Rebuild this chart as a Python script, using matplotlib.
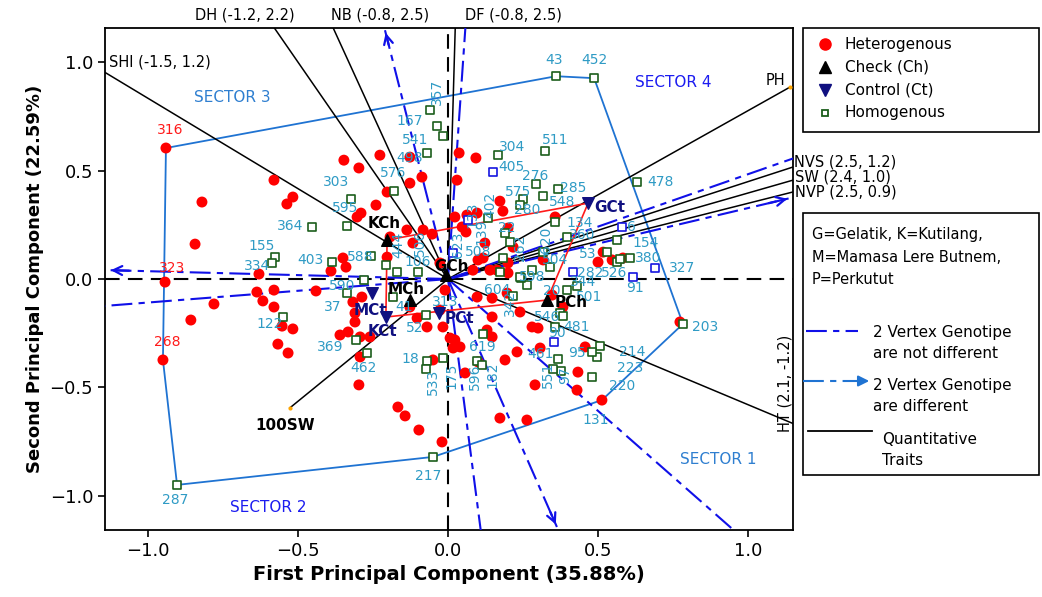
import matplotlib
matplotlib.use("Agg")
import matplotlib.pyplot as plt
from matplotlib.patches import Rectangle

# --- genotype scores (PC1, PC2) ---
het_x = [-0.94, -0.943, -0.95, -0.82, -0.843, -0.78, -0.857, -0.58, -0.517, -0.537,
         -0.63, -0.637, -0.58, -0.617, -0.58, -0.553, -0.517, -0.567, -0.533, -0.44,
         -0.39, -0.34, -0.35, -0.347, -0.297, -0.227, -0.127, -0.087, -0.127, -0.203,
         -0.24, -0.29, -0.303, -0.193, -0.137, -0.083, -0.053, -0.203, -0.027, 0.023,
         0.03, 0.037, 0.093, -0.287, -0.317, -0.31, -0.31, -0.333, -0.36, -0.293,
         -0.26, -0.293, -0.297, -0.167, -0.143, -0.097, -0.02, -0.103, -0.127, -0.017,
         0.007, 0.017, -0.01, -0.027, -0.117, -0.05, -0.07,
         0.173, 0.183, 0.063, 0.097, 0.047, 0.06, 0.2, 0.217, 0.123, 0.117, 0.14, 0.2,
         0.2, 0.1, 0.083, 0.163, 0.357, 0.317, 0.517, 0.5, 0.547, 0.583, 0.773, 0.197,
         0.147, 0.097, 0.24, 0.28, 0.3, 0.147, 0.347, 0.383, 0.13, 0.147, 0.023, 0.04,
         0.057, 0.23, 0.19, 0.307, 0.457, 0.433, 0.43, 0.29, 0.513, 0.173, 0.263, 0.1]
het_y = [0.604, -0.014, -0.373, 0.355, 0.161, -0.115, -0.189, 0.456, 0.378, 0.346,
         0.023, -0.06, -0.051, -0.101, -0.129, -0.217, -0.23, -0.30, -0.341, -0.055,
         0.037, 0.055, 0.097, 0.548, 0.512, 0.571, 0.562, 0.47, 0.442, 0.401,
         0.341, 0.304, 0.286, 0.194, 0.226, 0.226, 0.207, 0.101, 0.074, 0.286,
         0.456, 0.581, 0.558, -0.083, -0.106, -0.157, -0.198, -0.244, -0.258, -0.267,
         -0.267, -0.359, -0.488, -0.59, -0.631, -0.696, -0.751, -0.18, -0.129, -0.221,
         -0.272, -0.318, -0.051, -0.143, 0.166, -0.373, -0.221,
         0.359, 0.313, 0.295, 0.304, 0.24, 0.217, 0.235, 0.147, 0.166, 0.097, 0.041, 0.074,
         0.028, 0.088, 0.041, 0.041, 0.286, 0.088, 0.124, 0.078, 0.088, 0.097, -0.198, -0.065,
         -0.088, -0.083, -0.152, -0.221, -0.226, -0.175, -0.074, -0.129, -0.235, -0.267, -0.281, -0.313,
         -0.433, -0.336, -0.373, -0.318, -0.313, -0.429, -0.512, -0.488, -0.558, -0.641, -0.65, -0.382]

hom_x = [0.36, 0.487, 0.63, -0.06, -0.037, -0.017, -0.07, -0.18, -0.323, -0.453,
         -0.337, -0.387, -0.257, -0.207, -0.17, -0.1, -0.577, -0.587, -0.28, -0.337,
         -0.55, -0.307, -0.27, -0.183, -0.073, -0.07, -0.073, -0.017, -0.05, -0.903,
         0.783, 0.48, 0.507, 0.497, 0.48, 0.367, 0.377, 0.35, 0.373, 0.383,
         0.357, 0.43, 0.397, 0.217, 0.263, 0.243, 0.117, 0.097, 0.113, 0.167,
         0.323, 0.293, 0.367, 0.25, 0.24, 0.317, 0.357, 0.397, 0.19, 0.207,
         0.133, 0.183, 0.173, 0.24, 0.28, 0.317, 0.34, 0.53, 0.563, 0.573, 0.607, 0.563]
hom_y = [0.935, 0.926, 0.447, 0.779, 0.705, 0.659, 0.581, 0.406, 0.369, 0.24,
         0.244, 0.078, 0.106, 0.065, 0.032, 0.032, 0.101, 0.074, -0.005, -0.065,
         -0.175, -0.281, -0.341, -0.083, -0.166, -0.378, -0.415, -0.364, -0.82, -0.949,
         -0.207, -0.452, -0.309, -0.359, -0.336, -0.369, -0.424, -0.415, -0.157, -0.171,
         -0.221, -0.032, -0.051, -0.078, -0.028, 0.005, -0.253, -0.378, -0.396, 0.571,
         0.59, 0.438, 0.415, 0.369, 0.341, 0.382, 0.263, 0.194, 0.212, 0.171,
         0.281, 0.097, 0.032, 0.009, 0.041, 0.124, 0.055, 0.124, 0.078, 0.092, 0.097, 0.18]

blu_x = [0.15, 0.067, 0.017, 0.417, 0.58, 0.69, 0.617, 0.353]
blu_y = [0.493, 0.272, 0.12, 0.032, 0.24, 0.051, 0.009, -0.29]

# genotype number labels
lab_text = ["43", "452", "478", "357", "167", "541", "498", "576", "303", "595",
            "364", "155", "334", "403", "588", "590", "37", "122", "369", "462",
            "41", "52", "18", "533", "175", "217", "287", "203", "131", "220",
            "223", "214", "95", "461", "551", "97", "481", "90", "546", "501",
            "344", "20", "604", "598", "342", "619", "596", "182", "282", "526",
            "91", "327", "154", "380", "6", "134", "360", "53", "504", "548",
            "280", "575", "276", "285", "304", "405", "511", "133", "402", "139",
            "22", "623", "508", "262", "620", "106", "506", "444", "313"]
lab_x = [0.353, 0.487, 0.707, -0.037, -0.127, -0.11, -0.127, -0.183, -0.373, -0.343,
         -0.527, -0.62, -0.637, -0.46, -0.293, -0.353, -0.383, -0.593, -0.393, -0.28,
         -0.147, -0.11, -0.127, -0.05, 0.01, -0.067, -0.91, 0.857, 0.493, 0.58,
         0.607, 0.613, 0.43, 0.307, 0.333, 0.39, 0.427, 0.363, 0.33, 0.47,
         0.45, 0.345, 0.163, 0.28, 0.207, 0.113, 0.09, 0.147, 0.473, 0.553,
         0.623, 0.78, 0.657, 0.667, 0.613, 0.44, 0.447, 0.467, 0.357, 0.38,
         0.263, 0.233, 0.29, 0.417, 0.213, 0.213, 0.357, 0.08, 0.14, 0.113,
         0.197, 0.033, 0.1, 0.24, 0.327, -0.1, -0.093, -0.167, -0.01]
lab_y = [1.009, 1.009, 0.447, 0.862, 0.728, 0.641, 0.558, 0.488, 0.447, 0.327,
         0.244, 0.152, 0.06, 0.088, 0.101, -0.032, -0.129, -0.207, -0.313, -0.41,
         -0.129, -0.226, -0.369, -0.475, -0.447, -0.908, -1.018, -0.221, -0.65, -0.493,
         -0.41, -0.336, -0.341, -0.346, -0.442, -0.442, -0.221, -0.249, -0.175, -0.083,
         -0.012, -0.055, -0.051, 0.009, -0.111, -0.313, -0.452, -0.442, 0.028, 0.028,
         -0.041, 0.051, 0.166, 0.097, 0.24, 0.258, 0.203, 0.115, 0.088, 0.355,
         0.318, 0.401, 0.475, 0.419, 0.608, 0.516, 0.641, 0.295, 0.341, 0.217,
         0.235, 0.157, 0.124, 0.143, 0.18, 0.078, 0.166, 0.157, -0.106]
lab_rot = [0, 0, 0, 90, 0, 0, 0, 0, 0, 0,
           0, 0, 0, 0, 0, 0, 0, 0, 0, 0,
           0, 0, 0, 90, 90, 0, 0, 0, 0, 0,
           0, 0, 0, 0, 90, 90, 0, 0, 0, 0,
           0, 0, 0, 0, 90, 0, 90, 90, 0, 0,
           0, 0, 0, 0, 0, 0, 0, 0, 0, 0,
           0, 0, 0, 0, 0, 0, 0, 90, 90, 90,
           0, 90, 0, 90, 90, 0, 90, 90, 0]

red_lab = ["316", "323", "268"]
red_lab_x = [-0.927, -0.92, -0.937]
red_lab_y = [0.687, 0.051, -0.29]

# checks and controls
check_names = ["KCh", "MCh", "PCh", "GCh"]
check_x = [-0.203, -0.127, 0.33, -0.005]
check_y = [0.18, -0.097, -0.097, 0.02]
check_lx = [-0.213, -0.14, 0.41, 0.01]
check_ly = [0.258, -0.05, -0.106, 0.06]
ctrl_names = ["GCt", "MCt", "KCt", "PCt"]
ctrl_x = [0.467, -0.253, -0.207, -0.03]
ctrl_y = [0.35, -0.065, -0.175, -0.157]
ctrl_lx = [0.54, -0.257, -0.22, 0.037]
ctrl_ly = [0.332, -0.147, -0.24, -0.18]

# convex hull of vertex genotypes: 316, 43, 452, 203, 131, 217, 287, 268
hull_x = [-0.94, 0.36, 0.487, 0.783, 0.513, -0.05, -0.903, -0.95, -0.94]
hull_y = [0.604, 0.935, 0.926, -0.207, -0.558, -0.82, -0.949, -0.373, 0.604]

# trait vectors
trait_names = ["SHI", "DH", "NB", "DF", "PH", "NVS", "SW", "NVP", "HT", "100SW"]
trait_x = [-1.2, -0.6, -0.4, 0.025, 1.14, 1.16, 1.16, 1.16, 1.16, -0.527]
trait_y = [1.0, 1.2, 1.21, 1.2, 0.885, 0.521, 0.46, 0.405, -0.672, -0.594]

# vertex comparison vectors (blue)
vec_x = [-1.133, -1.2, -0.21, 0.06, 1.2, 1.14, 0.113, 0.363, 0.95]
vec_y = [0.041, -0.13, 1.147, 1.2, 0.58, 0.373, -1.2, -1.143, -1.155]
vec_arrow = [True, False, True, False, False, True, False, True, False]

fig = plt.figure(figsize=(10.42, 5.97), dpi=100)
ax = fig.add_axes([0.1008, 0.1122, 0.6603, 0.8408])
ax.set_xlim(-1.143, 1.15)
ax.set_ylim(-1.157, 1.157)

teal = "#2f9bc5"
hull_col = "#1f73d2"
vblue = "#1010e8"

ax.axhline(0, color="black", lw=1.5, ls=(0, (7, 4)), zorder=1)
ax.axvline(0, color="black", lw=1.5, ls=(0, (7, 4)), zorder=1)

ax.plot(hull_x, hull_y, color=hull_col, lw=1.3, zorder=2)

for tx, ty in zip(trait_x, trait_y):
    ax.plot([0, tx], [0, ty], color="black", lw=1.1, zorder=3)
ax.plot([trait_x[4], trait_x[9]], [trait_y[4], trait_y[9]], ls="none",
        marker="o", ms=2, color="orange", zorder=4)

for vx, vy, arr in zip(vec_x, vec_y, vec_arrow):
    ax.plot([0, vx], [0, vy], color=vblue, lw=1.5, ls=(0, (10, 3, 3, 3)), zorder=3)
    if arr:
        ax.annotate("", xy=(vx, vy), xytext=(vx * 0.93, vy * 0.93),
                    arrowprops=dict(arrowstyle="->", color=vblue, lw=1.6,
                                    mutation_scale=16))

ax.plot([check_x[0], ctrl_x[0], check_x[2], ctrl_x[2], check_x[0]],
        [check_y[0], ctrl_y[0], check_y[2], ctrl_y[2], check_y[0]],
        color="#ff1a1a", lw=1.2, zorder=4)

ax.scatter(het_x, het_y, s=62, color="#ff0000", edgecolor="none", zorder=5)
ax.scatter(hom_x, hom_y, s=30, marker="s", facecolor="white",
           edgecolor="#1b5e1b", lw=1.2, zorder=6)
ax.scatter(blu_x, blu_y, s=30, marker="s", facecolor="white",
           edgecolor="#1515e0", lw=1.2, zorder=6)
ax.scatter(check_x, check_y, s=70, marker="^", color="black", zorder=7)
ax.scatter(ctrl_x, ctrl_y, s=70, marker="v", color="#101080", zorder=7)

for t, x, y, r in zip(lab_text, lab_x, lab_y, lab_rot):
    ax.text(x, y, t, color=teal, fontsize=10, rotation=r,
            ha="center", va="center", zorder=8)
for t, x, y in zip(red_lab, red_lab_x, red_lab_y):
    ax.text(x, y, t, color="#ff1a1a", fontsize=10, ha="center", va="center", zorder=8)
for t, x, y in zip(check_names, check_lx, check_ly):
    ax.text(x, y, t, color="black", fontsize=11, fontweight="bold",
            ha="center", va="center", zorder=8)
for t, x, y in zip(ctrl_names, ctrl_lx, ctrl_ly):
    ax.text(x, y, t, color="#101080", fontsize=11, fontweight="bold",
            ha="center", va="center", zorder=8)

# sector names
ax.text(-0.72, 0.839, "SECTOR 3", color="#2f7fd0", fontsize=11, ha="center", va="center")
ax.text(0.75, 0.908, "SECTOR 4", color="#1c1cf0", fontsize=11, ha="center", va="center")
ax.text(0.9, -0.834, "SECTOR 1", color="#2f7fd0", fontsize=11, ha="center", va="center")
ax.text(-0.6, -1.055, "SECTOR 2", color="#1c1cf0", fontsize=11, ha="center", va="center")

# trait labels
tk = dict(color="black", fontsize=10.5, clip_on=False, va="center")
ax.text(-0.677, 1.217, "DH (-1.2, 2.2)", ha="center", **tk)
ax.text(-0.227, 1.217, "NB (-0.8, 2.5)", ha="center", **tk)
ax.text(0.217, 1.217, "DF (-0.8, 2.5)", ha="center", **tk)
ax.text(-1.13, 1.0, "SHI (-1.5, 1.2)", ha="left", **tk)
ax.text(1.057, 0.917, "PH", ha="left", **tk)
ax.text(1.152, 0.539, "NVS (2.5, 1.2)", ha="left", **tk)
ax.text(1.158, 0.47, "SW (2.4, 1.0)", ha="left", **tk)
ax.text(1.158, 0.40, "NVP (2.5, 0.9)", ha="left", **tk)
ax.text(1.123, -0.479, "HT (2.1, -1.2)", ha="center", rotation=90, **tk)
ax.text(-0.543, -0.673, "100SW", ha="center", color="black", fontsize=11,
        fontweight="bold", va="center")

ax.set_xticks([-1.0, -0.5, 0.0, 0.5, 1.0])
ax.set_yticks([-1.0, -0.5, 0.0, 0.5, 1.0])
ax.tick_params(labelsize=13, length=5, width=1.2)
for s in ax.spines.values():
    s.set_linewidth(1.3)
ax.set_xlabel("First Principal Component (35.88%)", fontsize=14, fontweight="bold")
ax.set_ylabel("Second Principal Component (22.59%)", fontsize=13, fontweight="bold")

# legend panels in pixel coordinates
lax = fig.add_axes([0, 0, 1, 1])
lax.set_xlim(0, 1042)
lax.set_ylim(597, 0)
lax.axis("off")
lax.add_patch(Rectangle((803, 28), 236, 104, fill=False, lw=1.2, ec="black"))
lax.add_patch(Rectangle((803, 213), 236, 262, fill=False, lw=1.2, ec="black"))

leg_names = ["Heterogenous", "Check (Ch)", "Control (Ct)", "Homogenous"]
leg_marks = ["o", "^", "v", "s"]
leg_cols = ["#ff0000", "black", "#101080", "#1b5e1b"]
for i, (n, m, c) in enumerate(zip(leg_names, leg_marks, leg_cols)):
    yy = 44 + i * 23
    if m == "s":
        lax.plot(825, yy, marker=m, ms=5, mfc="white", mec=c, mew=1.3)
    else:
        lax.plot(825, yy, marker=m, ms=8, color=c)
    lax.text(845, yy, n, fontsize=11, va="center", ha="left")

lax.text(812, 257, "G=Gelatik, K=Kutilang,\nM=Mamasa Lere Butnem,\nP=Perkutut",
         fontsize=10.5, va="center", ha="left", linespacing=1.6)
lax.plot([806, 858], [331, 331], color=vblue, lw=1.5, ls=(0, (10, 3, 3, 3)))
lax.text(873, 343, "2 Vertex Genotipe\nare not different", fontsize=11,
         va="center", ha="left", linespacing=1.5)
lax.plot([803, 862], [381, 381], color=hull_col, lw=1.5, ls=(0, (10, 3, 3, 3)))
lax.annotate("", xy=(872, 381), xytext=(855, 381),
             arrowprops=dict(arrowstyle="-|>", color=hull_col, lw=1.5, mutation_scale=16))
lax.text(873, 396, "2 Vertex Genotipe\nare different", fontsize=11,
         va="center", ha="left", linespacing=1.5)
lax.plot([808, 872], [431, 431], color="black", lw=1.3)
lax.text(882, 450, "Quantitative\nTraits", fontsize=11, va="center", ha="left",
         linespacing=1.5)

fig.savefig("out.png", dpi=100)
